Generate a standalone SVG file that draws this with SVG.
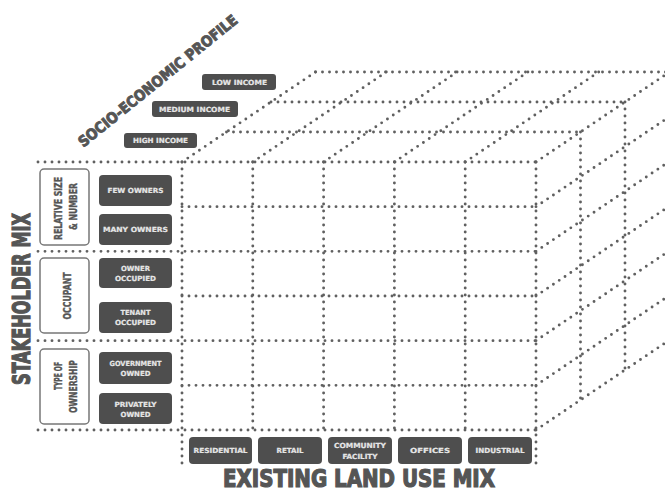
<svg xmlns="http://www.w3.org/2000/svg" width="665" height="494" viewBox="0 0 665 494">
<style>
.dot{fill:none;stroke:#606060;stroke-width:2.9;stroke-linecap:round;stroke-dasharray:0 7}
.dk{fill:#4e4e4e}
.grp{fill:#fff;stroke:#777;stroke-width:1.5}
.bt{font-family:"DejaVu Sans Condensed","DejaVu Sans","Liberation Sans",sans-serif;font-weight:bold;font-size:7px;fill:#e6e6e6;stroke:#e6e6e6;stroke-width:0.2;text-anchor:middle;dominant-baseline:central}
.gt{font-family:"DejaVu Sans Condensed","Liberation Sans Narrow","Liberation Sans",sans-serif;font-weight:bold;font-size:11px;fill:#555;stroke:#555;stroke-width:0.4;text-anchor:middle;dominant-baseline:central}
.tt{font-family:"DejaVu Sans Condensed","Liberation Sans Narrow","Liberation Sans",sans-serif;font-weight:bold;fill:#555;stroke:#555;text-anchor:middle;dominant-baseline:central}
</style>
<rect width="665" height="494" fill="#fff"/>
<g id="connectors">
<path class="dot" d="M182,162V467M252.8,162V430M323.6,162V430M394.4,162V430M465.2,162V430M536,162V467"/>
<path class="dot" d="M38,162H536M182,206.67H536M38,251.33H536M182,296H536M38,340.67H536M182,385.33H536M38,430H536"/>
<path class="dot" d="M226.5,132H580.5M271,102H625M315.5,72H669.5"/>
<path class="dot" d="M580.5,132V400M625,102V370M669.5,72V340"/>
<path class="dot" d="M182,162l133.5,-90M252.8,162l133.5,-90M323.6,162l133.5,-90M394.4,162l133.5,-90M465.2,162l133.5,-90M536,162l133.5,-90"/>
<path class="dot" d="M536,206.67l133.5,-90M536,251.33l133.5,-90M536,296l133.5,-90M536,340.67l133.5,-90M536,385.33l133.5,-90M536,430l133.5,-90"/>
</g>
<g id="title-socio">
<text class="tt" font-size="15" stroke-width="0.9" x="0" y="0" textLength="200" lengthAdjust="spacingAndGlyphs" transform="translate(158,81) rotate(-39)">SOCIO-ECONOMIC PROFILE</text>
</g>
<g id="title-stakeholder">
<text class="tt" font-size="25" stroke-width="1.2" x="0" y="0" textLength="172" lengthAdjust="spacingAndGlyphs" transform="translate(21,299) rotate(-90)">STAKEHOLDER MIX</text>
</g>
<g id="title-landuse">
<text class="tt" font-size="24" stroke-width="1.2" x="359" y="479" textLength="272" lengthAdjust="spacingAndGlyphs">EXISTING LAND USE MIX</text>
</g>
<g id="low-income"><rect class="dk" x="202" y="74" width="74" height="16" rx="3"/><text class="bt" x="239.5" y="82.5" textLength="55" lengthAdjust="spacingAndGlyphs">LOW INCOME</text></g>
<g id="medium-income"><rect class="dk" x="152" y="101" width="86" height="16" rx="3"/><text class="bt" x="194.5" y="109.5" textLength="71" lengthAdjust="spacingAndGlyphs">MEDIUM INCOME</text></g>
<g id="high-income"><rect class="dk" x="124" y="133" width="73" height="15" rx="3"/><text class="bt" x="160.5" y="141" textLength="55" lengthAdjust="spacingAndGlyphs">HIGH INCOME</text></g>
<g id="grp-relative"><rect class="grp" x="40" y="169" width="49" height="76" rx="4"/>
<text class="gt" textLength="63" lengthAdjust="spacingAndGlyphs" transform="translate(58,208.5) rotate(-90)">RELATIVE SIZE</text>
<text class="gt" textLength="47" lengthAdjust="spacingAndGlyphs" transform="translate(73,206.5) rotate(-90)">&amp; NUMBER</text></g>
<g id="grp-occupant"><rect class="grp" x="40" y="258" width="49" height="75" rx="4"/>
<text class="gt" textLength="47" lengthAdjust="spacingAndGlyphs" transform="translate(67,296) rotate(-90)">OCCUPANT</text></g>
<g id="grp-ownership"><rect class="grp" x="40" y="349" width="49" height="75" rx="4"/>
<text class="gt" textLength="28" lengthAdjust="spacingAndGlyphs" transform="translate(58,376) rotate(-90)">TYPE OF</text>
<text class="gt" textLength="53" lengthAdjust="spacingAndGlyphs" transform="translate(73,386.5) rotate(-90)">OWNERSHIP</text></g>
<g id="few-owners"><rect class="dk" x="99" y="175" width="73" height="31" rx="4"/><text class="bt" x="135.5" y="191" textLength="56" lengthAdjust="spacingAndGlyphs">FEW OWNERS</text></g>
<g id="many-owners"><rect class="dk" x="99" y="214" width="73" height="31" rx="4"/><text class="bt" x="135.5" y="230" textLength="65" lengthAdjust="spacingAndGlyphs">MANY OWNERS</text></g>
<g id="owner-occupied"><rect class="dk" x="99" y="258" width="73" height="30" rx="4"/><text class="bt" x="135.5" y="269" textLength="29" lengthAdjust="spacingAndGlyphs">OWNER</text><text class="bt" x="135.5" y="279" font-size="6" textLength="41" lengthAdjust="spacingAndGlyphs">OCCUPIED</text></g>
<g id="tenant-occupied"><rect class="dk" x="99" y="302" width="73" height="31" rx="4"/><text class="bt" x="135.5" y="313" textLength="30" lengthAdjust="spacingAndGlyphs">TENANT</text><text class="bt" x="135.5" y="323" textLength="41" lengthAdjust="spacingAndGlyphs">OCCUPIED</text></g>
<g id="government-owned"><rect class="dk" x="99" y="352" width="73" height="32" rx="4"/><text class="bt" x="135.5" y="364" textLength="52" lengthAdjust="spacingAndGlyphs">GOVERNMENT</text><text class="bt" x="135.5" y="373.5" textLength="30" lengthAdjust="spacingAndGlyphs">OWNED</text></g>
<g id="privately-owned"><rect class="dk" x="99" y="393" width="73" height="31" rx="4"/><text class="bt" x="135.5" y="405" textLength="42" lengthAdjust="spacingAndGlyphs">PRIVATELY</text><text class="bt" x="135.5" y="415" textLength="30" lengthAdjust="spacingAndGlyphs">OWNED</text></g>
<g id="residential"><rect class="dk" x="189" y="437" width="63" height="27" rx="4"/><text class="bt" x="220.5" y="451" textLength="54" lengthAdjust="spacingAndGlyphs">RESIDENTIAL</text></g>
<g id="retail"><rect class="dk" x="258" y="437" width="64" height="27" rx="4"/><text class="bt" x="290" y="451" textLength="27" lengthAdjust="spacingAndGlyphs">RETAIL</text></g>
<g id="community-facility"><rect class="dk" x="328" y="437" width="64" height="27" rx="4"/><text class="bt" x="360" y="446" textLength="52" lengthAdjust="spacingAndGlyphs">COMMUNITY</text><text class="bt" x="360" y="456.5" textLength="35" lengthAdjust="spacingAndGlyphs">FACILITY</text></g>
<g id="offices"><rect class="dk" x="398" y="437" width="64" height="27" rx="4"/><text class="bt" x="430" y="451" textLength="40" lengthAdjust="spacingAndGlyphs">OFFICES</text></g>
<g id="industrial"><rect class="dk" x="468" y="437" width="64" height="27" rx="4"/><text class="bt" x="500" y="451" textLength="49" lengthAdjust="spacingAndGlyphs">INDUSTRIAL</text></g>
</svg>
